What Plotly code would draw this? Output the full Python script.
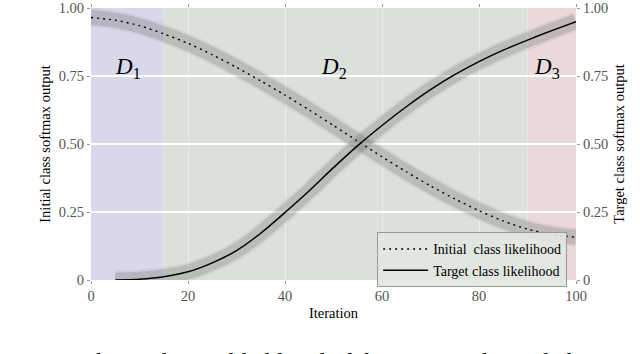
import plotly.graph_objects as go

# values (iteration, softmax output)
iters = [0, 5, 10, 15, 20, 25, 30, 35, 40, 45, 50, 55, 60, 65, 70, 75, 80, 85, 90, 95, 100]
initial_prob = [0.965, 0.955, 0.935, 0.905, 0.87, 0.828, 0.782, 0.732, 0.68, 0.625, 0.568,
                0.51, 0.453, 0.398, 0.346, 0.298, 0.255, 0.217, 0.187, 0.168, 0.157]

target_iters = [5, 10, 15, 20, 25, 30, 35, 40, 45, 50, 55, 60, 65, 70, 75, 80, 85, 90, 95, 100]
target_prob = [0.0, 0.003, 0.012, 0.03, 0.063, 0.108, 0.172, 0.248, 0.328, 0.413, 0.494,
               0.568, 0.637, 0.700, 0.755, 0.803, 0.845, 0.882, 0.917, 0.95]

# stage boundaries and labels
stage_edges = [0, 15, 90, 100]
stage_colors = ["#d8d8ea", "#dae1d9", "#e9d9da"]
stage_labels = ["<i>D</i><sub>1</sub>", "<i>D</i><sub>2</sub>", "<i>D</i><sub>3</sub>"]
stage_label_x = [7.6, 50, 94]

ytick_vals = [0, 0.25, 0.5, 0.75, 1.0]
ytick_text = ["0", "0.25", "0.50", "0.75", "1.00"]

serif = "Liberation Serif"
tick_font = dict(family=serif, size=14.5, color="#555555")
title_font = dict(family=serif, size=14.5, color="black")

fig = go.Figure()

# shaded uncertainty bands (wide translucent strokes)
for xs, ys, ax in [(iters, initial_prob, "y"), (target_iters, target_prob, "y2")]:
    fig.add_trace(go.Scatter(x=xs, y=ys, mode="lines", yaxis=ax, showlegend=False, hoverinfo="skip",
                             line=dict(color="rgba(90,90,90,0.08)", width=19, shape="spline", smoothing=0.7)))
    fig.add_trace(go.Scatter(x=xs, y=ys, mode="lines", yaxis=ax, showlegend=False, hoverinfo="skip",
                             line=dict(color="rgba(90,90,90,0.2)", width=15, shape="spline", smoothing=0.7)))

fig.add_trace(go.Scatter(x=iters, y=initial_prob, mode="lines", name="Initial  class likelihood",
                         line=dict(color="black", width=1.4, dash="2px,4px", shape="spline", smoothing=0.7)))
fig.add_trace(go.Scatter(x=target_iters, y=target_prob, mode="lines", name="Target class likelihood",
                         yaxis="y2", line=dict(color="black", width=1.5, shape="spline", smoothing=0.7)))

for i in range(3):
    fig.add_shape(type="rect", xref="x", yref="paper", x0=stage_edges[i], x1=stage_edges[i + 1],
                  y0=0, y1=1, fillcolor=stage_colors[i], line=dict(width=0), layer="below")
    fig.add_annotation(x=stage_label_x[i], y=0.78, xref="x", yref="y", text=stage_labels[i],
                       showarrow=False, font=dict(family=serif, size=23, color="black"))

# caption of the figure, cut off by the bottom edge as in the source image
fig.add_annotation(x=0, y=-0.243, xref="paper", yref="paper", xanchor="left", yanchor="top",
                   text="Fig. 1.   The prediction likelihood of the target and initial class",
                   showarrow=False, xshift=-91, font=dict(family=serif, size=24, color="black"))

fig.update_layout(
    width=640, height=354,
    margin=dict(l=91, r=64, t=8, b=74, autoexpand=False),
    paper_bgcolor="white",
    plot_bgcolor="white",
    font=dict(family=serif, color="#555555", size=13),
    xaxis=dict(range=[0, 100], tickvals=[0, 20, 40, 60, 80, 100], ticks="outside", ticklen=3,
               tickcolor="#999999", mirror="ticks", showline=False, zeroline=False, automargin=False,
               gridcolor="rgba(255,255,255,0.4)", gridwidth=1,
               title=dict(text="Iteration", font=title_font, standoff=4), tickfont=tick_font),
    yaxis=dict(range=[0, 1], tickvals=ytick_vals, ticktext=ytick_text, ticks="outside", ticklen=3,
               tickcolor="#999999", zeroline=False, showline=False, gridcolor="white", gridwidth=1.5,
               automargin=False,
               title=dict(text="Initial class softmax output", font=title_font, standoff=4),
               tickfont=tick_font),
    yaxis2=dict(range=[0, 1], overlaying="y", side="right", tickvals=ytick_vals, ticktext=ytick_text,
                ticks="outside", ticklen=3, tickcolor="#999999", showgrid=False, zeroline=False,
                automargin=False,
                title=dict(text="Target class softmax output", font=title_font, standoff=6),
                tickfont=tick_font),
    legend=dict(x=0.59, y=0.175, xanchor="left", yanchor="top", bgcolor="rgba(226,231,225,0.9)",
                bordercolor="#999999", borderwidth=1, font=dict(family=serif, size=14, color="black"),
                tracegroupgap=0, itemwidth=45),
    showlegend=True,
)

# page body has a default 8px margin; drop it so the figure sits at the window's corner
fig.write_html("out.html", config={"displayModeBar": False},
               post_script="document.body.style.margin='0px';")
